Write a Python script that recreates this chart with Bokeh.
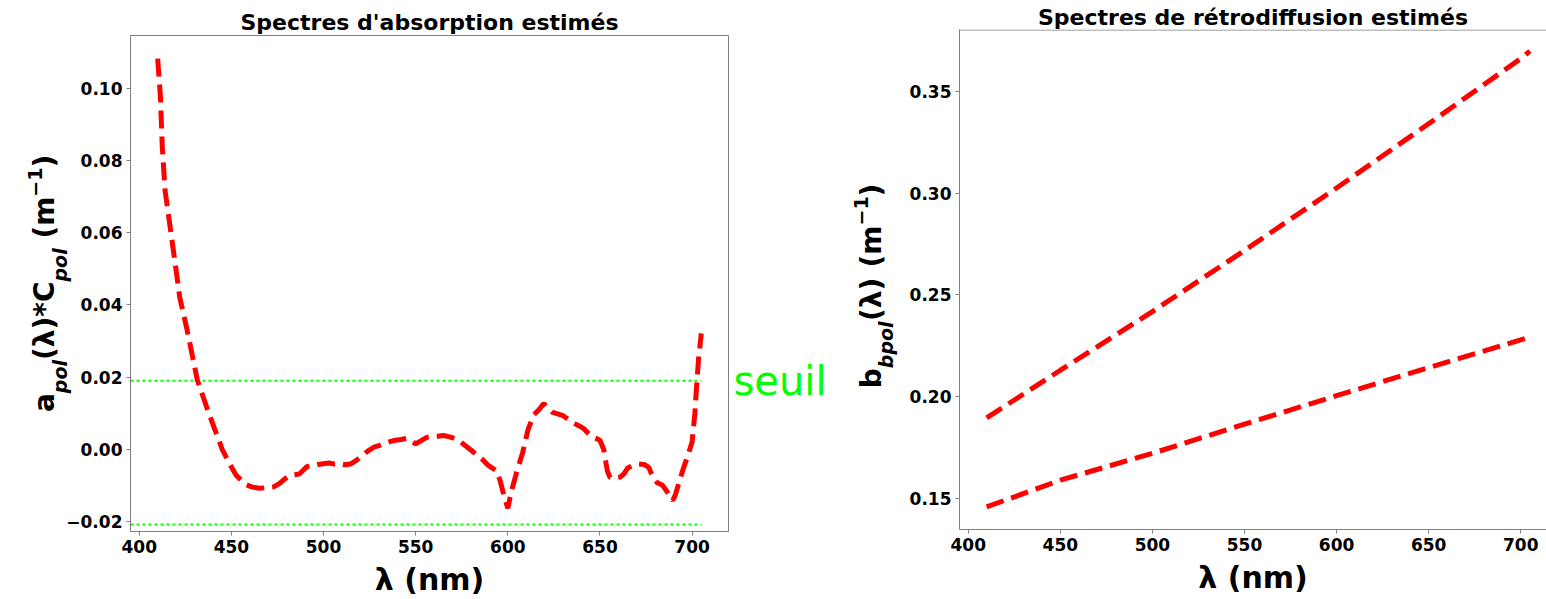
from bokeh.plotting import figure
from bokeh.models import FixedTicker, Range1d, LinearAxis, Span
from bokeh.core.templates import get_env
from bokeh.embed import file_html
from bokeh.resources import INLINE

# --- absorption spectrum (left panel) ---
wl_abs = [410, 411.5, 412.5, 414, 416.5, 419.5, 422, 426, 431.5, 436.5, 441, 445,
          449, 452.5, 457.5, 461, 465, 470, 473, 476, 479, 482, 485, 487, 489, 491,
          494, 497, 500, 503, 506, 509, 512, 515, 518, 521, 524, 527, 530, 533, 536,
          539, 542, 545, 548, 550, 553, 556, 559, 562, 565, 568, 571, 574, 577, 580,
          583, 586, 589, 591, 594, 596, 598, 600, 602, 605, 608, 611, 614, 617, 619.5,
          622, 624, 627, 630, 633, 636, 639, 641, 643.5, 645.5, 648, 650, 652, 654,
          655.5, 658, 661, 663, 665, 668, 671, 674, 676.5, 678.5, 681, 684, 686.5,
          689.5, 691, 693, 695, 697.5, 700, 701.5, 702.5, 703.5, 705]
a_pol = [0.1082, 0.0975, 0.0837, 0.0717, 0.0625, 0.0514, 0.0420, 0.0330, 0.0192,
         0.0118, 0.0055, 0.0000, -0.0040, -0.0071, -0.0097, -0.0104, -0.0108, -0.0106,
         -0.0104, -0.0095, -0.0082, -0.0072, -0.0070, -0.0068, -0.0058, -0.0048,
         -0.0045, -0.0042, -0.0040, -0.0038, -0.0041, -0.0040, -0.0043, -0.0040,
         -0.0030, -0.0018, -0.0005, 0.0005, 0.0010, 0.0016, 0.0021, 0.0025, 0.0027,
         0.0030, 0.0022, 0.0015, 0.0024, 0.0033, 0.0035, 0.0036, 0.0038, 0.0035,
         0.0030, 0.0022, 0.0010, -0.0002, -0.0015, -0.0027, -0.0043, -0.0050, -0.0060,
         -0.0090, -0.0130, -0.0163, -0.0115, -0.0060, -0.0010, 0.0055, 0.0095, 0.0110,
         0.0127, 0.0112, 0.0103, 0.0098, 0.0093, 0.0082, 0.0072, 0.0064, 0.0058,
         0.0045, 0.0035, 0.0030, 0.0025, 0.0000, -0.0060, -0.0078, -0.0079, -0.0077,
         -0.0068, -0.0052, -0.0045, -0.0041, -0.0042, -0.0050, -0.0075, -0.0092,
         -0.0100, -0.0118, -0.0142, -0.0125, -0.0090, -0.0057, -0.0020, 0.0020,
         0.0100, 0.0180, 0.0250, 0.0321]

seuil_haut = 0.019
seuil_bas = -0.0208
seuil_wl = [395.25, 705]

# --- backscattering spectra (right panel) ---
wl_bb = [410, 450, 500, 550, 600, 650, 700, 705]
bbp_haut = [0.1896, 0.2130, 0.2418, 0.2718, 0.3025, 0.3340, 0.3660, 0.3697]
bbp_bas = [0.1459, 0.1590, 0.1722, 0.1865, 0.2005, 0.2143, 0.2279, 0.2293]

# --- ticks ---
x_ticks = [400, 450, 500, 550, 600, 650, 700]
x_labels = ["400", "450", "500", "550", "600", "650", "700"]
y_ticks_abs = [-0.02, 0.0, 0.02, 0.04, 0.06, 0.08, 0.10]
y_labels_abs = ["\u22120.02", "0.00", "0.02", "0.04", "0.06", "0.08", "0.10"]
y_ticks_bb = [0.15, 0.20, 0.25, 0.30, 0.35]
y_labels_bb = ["0.15", "0.20", "0.25", "0.30", "0.35"]

# y-axis titles, written as (text, role, gap-before in em) with sub/superscripts
label_abs = [("a", "main", 0), ("pol", "sub", 0), ("(λ)*C", "main", 0),
             ("pol", "sub", 0), ("(m", "main", 0.35), ("\u22121", "sup", 0),
             (")", "main", 0)]
label_bb = [("b", "main", 0), ("bpol", "sub", 0), ("(λ)", "main", 0),
            ("(m", "main", 0.35), ("\u22121", "sup", 0), (")", "main", 0)]

FONT = "DejaVu Sans"
FRAME = "#808080"
RED = "#ff0000"
GREEN = "#00ff00"

# approximate advance widths (em) of DejaVu Sans Bold
EM = {"a": 0.675, "b": 0.716, "p": 0.716, "o": 0.687, "l": 0.343, "(": 0.457,
      ")": 0.457, "λ": 0.66, "*": 0.5, "C": 0.734, "m": 1.042, "\u2212": 0.838,
      "1": 0.696}
SIZES = {"main": 28, "sub": 19, "sup": 19}
STYLES = {"main": "bold", "sub": "bold italic", "sup": "bold"}


def style(p, yt, yl):
    p.grid.visible = False
    p.xaxis.ticker = FixedTicker(ticks=x_ticks)
    p.xaxis.major_label_overrides = dict(zip(x_ticks, x_labels))
    p.yaxis.ticker = FixedTicker(ticks=yt)
    p.yaxis.major_label_overrides = dict(zip(yt, yl))
    for ax in (p.xaxis[0], p.yaxis[0]):
        ax.major_label_text_font = FONT
        ax.major_label_text_font_style = "bold"
        ax.major_label_text_font_size = "17px"
        ax.major_label_text_color = "#000000"
        ax.axis_label_text_font = FONT
        ax.axis_label_text_font_style = "bold"
        ax.axis_label_text_font_size = "30px"
        ax.axis_label_text_color = "#000000"
        ax.axis_line_color = FRAME
        ax.major_tick_line_color = FRAME
        ax.major_tick_out = 4
        ax.major_tick_in = 0
        ax.minor_tick_line_color = None
        ax.major_label_standoff = 4
        ax.axis_label_standoff = 6
    p.title.text_font = FONT
    p.title.text_font_size = "22px"
    p.title.text_font_style = "bold"
    p.title.text_color = "#000000"
    p.title.align = "center"


def y_title(p, pieces, start_px, frame_top, frame_bottom, standoffs):
    """Lay a rotated y title out of several label-only axes (main, sub, sup)."""
    y0, y1 = p.y_range.start, p.y_range.end

    def to_data(py):
        return y0 + (frame_bottom - py) / (frame_bottom - frame_top) * (y1 - y0)

    groups = {"main": {}, "sub": {}, "sup": {}}
    pos = start_px
    for text, role, gap in pieces:
        pos -= gap * SIZES["main"]
        w = sum(EM[c] for c in text) * SIZES[role]
        groups[role][to_data(pos - w / 2)] = text
        pos -= w
    for role in ("sub", "main", "sup"):
        ticks = list(groups[role])
        p.add_layout(LinearAxis(
            ticker=FixedTicker(ticks=ticks), major_label_overrides=groups[role],
            major_label_orientation="vertical", major_label_text_font=FONT,
            major_label_text_font_size=f"{SIZES[role]}px",
            major_label_text_font_style=STYLES[role], major_label_text_color="#000000",
            major_label_standoff=standoffs[role], major_tick_out=0, major_tick_in=0,
            major_tick_line_color=None, minor_tick_line_color=None,
            axis_line_color=None), "left")


# ---------------- left: absorption ----------------
p1 = figure(width=840, height=599, output_backend="svg", toolbar_location=None,
            x_range=Range1d(395.25, 719.75), y_range=Range1d(-0.02277, 0.1146),
            min_border_left=130, min_border_right=112, min_border_top=35,
            min_border_bottom=67, title="Spectres d'absorption estimés")
style(p1, y_ticks_abs, y_labels_abs)
p1.title.standoff = 1
p1.outline_line_color = FRAME
p1.xaxis.axis_label = "λ (nm)"
y_title(p1, label_abs, 412, 35, 531.7, {"sub": -8, "main": -15, "sup": -17})

p1.line(seuil_wl, [seuil_haut] * 2, line_color=GREEN, line_width=2, line_dash="3 3")
p1.line(seuil_wl, [seuil_bas] * 2, line_color=GREEN, line_width=2, line_dash="3 3")
p1.line(wl_abs, a_pol, line_color=RED, line_width=5, line_dash="18 8")

# threshold caption beside the frame, carried by a label-only right axis
p1.add_layout(LinearAxis(
    ticker=FixedTicker(ticks=[seuil_haut]), major_label_overrides={seuil_haut: "seuil"},
    major_label_text_font=FONT, major_label_text_font_size="40px",
    major_label_text_font_style="normal", major_label_text_color=GREEN,
    major_label_standoff=5, major_tick_out=0, major_tick_in=0,
    major_tick_line_color=None, minor_tick_line_color=None, axis_line_color=None), "right")

# ---------------- right: backscattering ----------------
p2 = figure(width=706, height=599, output_backend="svg", toolbar_location=None,
            x_range=Range1d(395.25, 714.0), y_range=Range1d(0.1348, 0.3803),
            min_border_left=119, min_border_right=0, min_border_top=29,
            min_border_bottom=70, title="Spectres de rétrodiffusion estimés")
style(p2, y_ticks_bb, y_labels_bb)
p2.title.standoff = 0
p2.outline_line_color = None
p2.xaxis.axis_label = "λ (nm)"
y_title(p2, label_bb, 388, 29.3, 529.3, {"sub": 9, "main": -16, "sup": -16})

# top edge of the frame (the right edge runs off the page)
half_px = (p2.y_range.end - p2.y_range.start) / 500 * 0.5
p2.add_layout(Span(location=p2.y_range.end - half_px, dimension="width",
                   line_color=FRAME, line_width=1))

p2.line(wl_bb, bbp_haut, line_color=RED, line_width=5, line_dash="18 8")
p2.line(wl_bb, bbp_bas, line_color=RED, line_width=5, line_dash="18 8")

# the two figures sit side by side as independent roots, each with its own frame
page = get_env().from_string(
    '{% extends "file.html" %}'
    '{% block postamble %}<style>'
    'html, body { margin: 0 !important; padding: 0 !important; }'
    'body { display: flex !important; flex-direction: row; align-items: flex-start; }'
    '</style>{% endblock %}'
)
open("out.html", "w").write(file_html([p1, p2], INLINE, template=page))
